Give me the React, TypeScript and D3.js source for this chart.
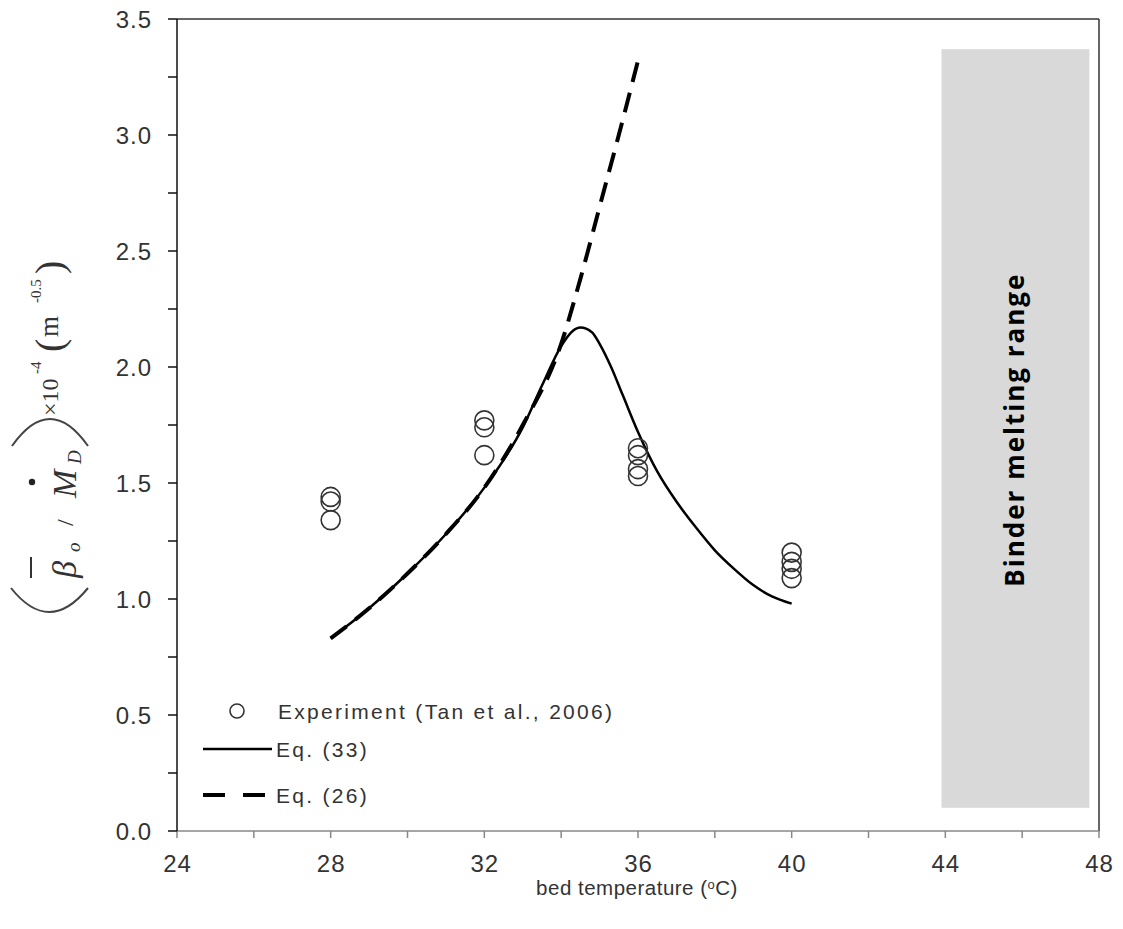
import React from "react";
import * as d3 from "d3";

const W = 1123;
const H = 929;

// Experimental data (Tan et al., 2006)
const expTemps = [28, 28, 28, 32, 32, 32, 36, 36, 36, 36, 40, 40, 40, 40];
const expValues = [1.44, 1.42, 1.34, 1.77, 1.74, 1.62, 1.65, 1.62, 1.56, 1.53, 1.20, 1.16, 1.13, 1.09];

// Eq. (33)
const eq33T = [28, 29, 30, 31, 32, 33, 33.5, 34, 34.3, 34.5, 34.8, 35, 35.3, 35.6, 36, 36.5, 37, 37.5, 38, 38.5, 39, 39.5, 40];
const eq33V = [0.83, 0.96, 1.11, 1.28, 1.48, 1.74, 1.92, 2.09, 2.155, 2.17, 2.15, 2.10, 2.00, 1.88, 1.72, 1.55, 1.42, 1.31, 1.21, 1.13, 1.06, 1.01, 0.98];

// Eq. (26)
const eq26T = [28, 29, 30, 31, 32, 33, 34, 34.5, 35, 35.5, 36];
const eq26V = [0.83, 0.96, 1.11, 1.28, 1.48, 1.75, 2.10, 2.38, 2.69, 3.00, 3.32];

// Binder melting range
const binderRange = [43.9, 47.75];
const binderY = [0.1, 3.37];

const xTicksMajor = [24, 28, 32, 36, 40, 44, 48];
const xTicksAll = [24, 26, 28, 30, 32, 34, 36, 38, 40, 42, 44, 46, 48];
const yTicksMajor = [0, 0.5, 1.0, 1.5, 2.0, 2.5, 3.0, 3.5];
const yTicksMinor = [0.25, 0.75, 1.25, 1.75, 2.25, 2.75, 3.25];

const legendLabels = ["Experiment (Tan et al., 2006)", "Eq. (33)", "Eq. (26)"];

export default function App() {
  const x = d3.scaleLinear().domain([24, 48]).range([177, 1099]);
  const y = d3.scaleLinear().domain([0, 3.5]).range([831, 19]);

  const line = d3
    .line<[number, number]>()
    .x((d) => x(d[0]))
    .y((d) => y(d[1]))
    .curve(d3.curveMonotoneX);

  const eq33 = line(eq33T.map((t, i) => [t, eq33V[i]] as [number, number])) || "";
  const eq26 = line(eq26T.map((t, i) => [t, eq26V[i]] as [number, number])) || "";

  const tickFont = "'Liberation Sans', Arial, sans-serif";
  const serif = "'Liberation Serif', 'Times New Roman', serif";
  const textColor = "#333";

  // y-label pieces: screen y where glyph run starts (bottom), screen x of baseline
  const lab = (sy: number, sx: number) => ({ x: -sy, y: sx });

  return (
    <svg width={W} height={H} style={{ position: "absolute", left: 0, top: 0, background: "#fff" }}>
      {/* binder melting range */}
      <rect
        x={x(binderRange[0])}
        y={y(binderY[1])}
        width={x(binderRange[1]) - x(binderRange[0])}
        height={y(binderY[0]) - y(binderY[1])}
        fill="#d9d9d9"
      />
      <text
        transform={`translate(${(x(binderRange[0]) + x(binderRange[1])) / 2 + 9}, ${y(1.73)}) rotate(-90)`}
        textAnchor="middle"
        fontFamily="'Open Sans', sans-serif"
        fontWeight="bold"
        fontSize={26}
        letterSpacing={2}
        fill="#000"
      >
        Binder melting range
      </text>

      {/* frame */}
      <line x1={x(24)} x2={x(48)} y1={y(3.5)} y2={y(3.5)} stroke="#333" strokeWidth={1.5} />
      <line x1={x(48)} x2={x(48)} y1={y(3.5)} y2={y(0)} stroke="#333" strokeWidth={1.5} />
      <line x1={x(24)} x2={x(48)} y1={y(0)} y2={y(0)} stroke="#888" strokeWidth={1.5} />
      <line x1={x(24)} x2={x(24)} y1={y(3.5)} y2={y(0)} stroke="#111" strokeWidth={1.5} />

      {/* x ticks */}
      {xTicksAll.map((t) => (
        <line key={"xt" + t} x1={x(t)} x2={x(t)} y1={y(0)} y2={y(0) + 7} stroke="#888" strokeWidth={1.5} />
      ))}
      {xTicksMajor.map((t) => (
        <text key={"xl" + t} x={x(t) + 0.5} y={872} textAnchor="middle" fontFamily={tickFont} fontSize={24} letterSpacing={1} fill={textColor}>
          {t}
        </text>
      ))}

      {/* y ticks */}
      {yTicksMajor.map((t) => (
        <line key={"yt" + t} x1={x(24) - 9} x2={x(24)} y1={y(t)} y2={y(t)} stroke="#111" strokeWidth={1.5} />
      ))}
      {yTicksMinor.map((t) => (
        <line key={"ym" + t} x1={x(24) - 9} x2={x(24)} y1={y(t)} y2={y(t)} stroke="#111" strokeWidth={1.5} />
      ))}
      {yTicksMajor.map((t) => (
        <text key={"yl" + t} x={152} y={y(t) + 8.5} textAnchor="end" fontFamily={tickFont} fontSize={24} letterSpacing={1} fill={textColor}>
          {t.toFixed(1)}
        </text>
      ))}

      {/* x axis title */}
      <text x={637} y={895} textAnchor="middle" fontFamily={tickFont} fontSize={20.5} letterSpacing={0.5} fill={textColor}>
        bed temperature (<tspan fontSize={13} dy={-6}>o</tspan>
        <tspan dy={6}>C)</tspan>
      </text>

      {/* y axis title */}
      <g>
        {/* big brackets */}
        <path d="M 11 588 Q 49 636 88 588" fill="none" stroke="#444" strokeWidth={2} />
        <path d="M 12 446 Q 50 392 88 446" fill="none" stroke="#444" strokeWidth={2} />
        {/* overbar of beta and dot of M */}
        <line x1={31} x2={31} y1={578} y2={557} stroke="#333" strokeWidth={2} />
        <circle cx={32} cy={482} r={3.2} fill="#222" />
        <g transform="rotate(-90)" fontFamily={serif} fill="#333">
          <text {...lab(578, 76)} fontStyle="italic" fontSize={34}>β</text>
          <text {...lab(552, 80)} fontStyle="italic" fontSize={19}>o</text>
          <text {...lab(526, 73)} fontSize={24}>/</text>
          <text {...lab(498, 76)} fontStyle="italic" fontSize={34}>M</text>
          <text {...lab(464, 81)} fontStyle="italic" fontSize={19}>D</text>
          <text {...lab(416, 58)} fontSize={24}>×10</text>
          <text {...lab(374, 41)} fontSize={15}>-4</text>
          <text {...lab(352, 63)} fontSize={40}>(</text>
          <text {...lab(337, 58)} fontSize={27}>m</text>
          <text {...lab(303, 41)} fontSize={15}>-0.5</text>
          <text {...lab(274, 63)} fontSize={40}>)</text>
        </g>
      </g>

      {/* curves */}
      <path d={eq26} fill="none" stroke="#000" strokeWidth={4} strokeDasharray="20,11" />
      <path d={eq33} fill="none" stroke="#000" strokeWidth={2.5} />

      {/* experimental points */}
      {expTemps.map((t, i) => (
        <circle key={"p" + i} cx={x(t)} cy={y(expValues[i])} r={9.5} fill="none" stroke="#333" strokeWidth={1.6} />
      ))}

      {/* legend */}
      <circle cx={237} cy={711} r={7} fill="none" stroke="#333" strokeWidth={1.6} />
      <text x={278} y={718.5} fontFamily={tickFont} fontSize={21} letterSpacing={2.3} fill={textColor}>
        {legendLabels[0]}
      </text>
      <line x1={203} x2={272} y1={749} y2={749} stroke="#000" strokeWidth={2.5} />
      <text x={276} y={756.5} fontFamily={tickFont} fontSize={21} letterSpacing={2.3} fill={textColor}>
        {legendLabels[1]}
      </text>
      <line x1={203} x2={272} y1={795} y2={795} stroke="#000" strokeWidth={4} strokeDasharray="22,18" />
      <text x={276} y={802.5} fontFamily={tickFont} fontSize={21} letterSpacing={2.3} fill={textColor}>
        {legendLabels[2]}
      </text>
    </svg>
  );
}
